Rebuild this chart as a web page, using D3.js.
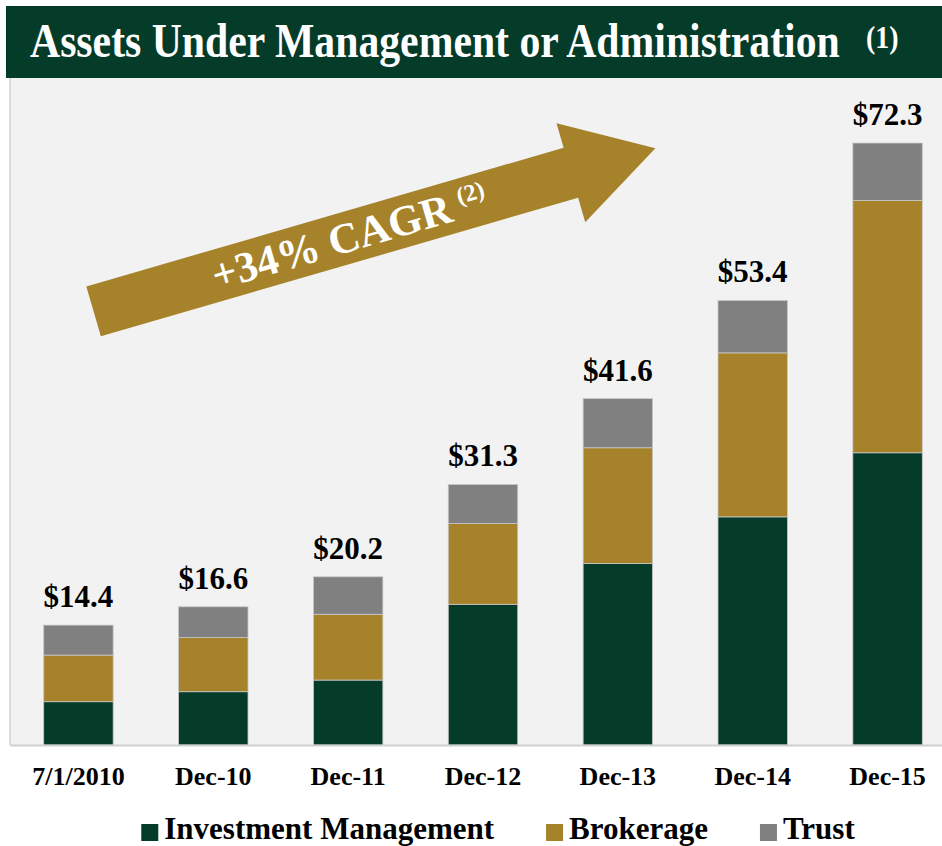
<!DOCTYPE html>
<html>
<head>
<meta charset="utf-8">
<script src="https://cdn.jsdelivr.net/npm/d3@7"></script>
<style>
  body { margin: 0; background: #fff; }
  svg { display: block; font-family: "Liberation Serif", "Times New Roman", serif; }
</style>
</head>
<body>
<div id="chart"></div>
<script>
// Assets under management or administration, $bn, stacked by business line
const categories = ["7/1/2010", "Dec-10", "Dec-11", "Dec-12", "Dec-13", "Dec-14", "Dec-15"];
const investmentMgmt = [5.2, 6.4, 7.8, 16.9, 21.8, 27.4, 35.1];
const brokerage = [5.6, 6.5, 7.9, 9.7, 13.9, 19.7, 30.3];
const trust = [3.6, 3.7, 4.5, 4.7, 5.9, 6.3, 6.9];
const totalLabels = ["$14.4", "$16.6", "$20.2", "$31.3", "$41.6", "$53.4", "$72.3"];
const seriesNames = ["Investment Management", "Brokerage", "Trust"];
const seriesKeys = ["im", "brok", "trust"];
const cagrText = "+34% CAGR";

const W = 942, H = 846;
const GREEN = "#053b29", GOLD = "#a6832a", GREY = "#808080";
const colors = { im: GREEN, brok: GOLD, trust: GREY };

const rows = categories.map((c, i) => ({
  cat: c, im: investmentMgmt[i], brok: brokerage[i], trust: trust[i]
}));

const svg = d3.select("#chart").append("svg")
  .attr("width", W).attr("height", H);

const plot = { left: 10, top: 78, right: W, bottom: 745 };

// plot background
svg.append("rect")
  .attr("x", plot.left).attr("y", plot.top)
  .attr("width", plot.right - plot.left).attr("height", plot.bottom - plot.top)
  .attr("fill", "#f2f2f2");
svg.append("line")
  .attr("x1", plot.left).attr("x2", plot.left)
  .attr("y1", plot.top).attr("y2", plot.bottom)
  .attr("stroke", "#d0d0d0").attr("stroke-width", 1.5);

// title bar (title face is narrow in the original, so squeeze it horizontally)
svg.append("rect")
  .attr("x", 6).attr("y", 6).attr("width", W - 6).attr("height", 72)
  .attr("fill", GREEN);
const title = svg.append("text")
  .attr("fill", "#fff").attr("font-weight", "bold").attr("font-size", 49)
  .text("Assets Under Management or Administration");
const tw = title.node().getComputedTextLength();
title.attr("transform", `translate(30,57) scale(${810 / tw},1)`);
svg.append("text")
  .attr("transform", "translate(866,48) scale(0.9,1)")
  .attr("fill", "#fff").attr("font-weight", "bold").attr("font-size", 31)
  .text("(1)");

const x = d3.scaleBand()
  .domain(categories)
  .range([11, 955])
  .paddingInner(0.485)
  .paddingOuter(0.2425);

const y = d3.scaleLinear()
  .domain([0, 80])
  .range([plot.bottom, plot.bottom - 80 * 8.326]);

const stacked = d3.stack().keys(seriesKeys)(rows);

svg.append("g")
  .selectAll("g")
  .data(stacked)
  .join("g")
  .attr("fill", d => colors[d.key])
  .selectAll("rect")
  .data(d => d)
  .join("rect")
  .attr("x", d => x(d.data.cat))
  .attr("width", x.bandwidth())
  .attr("y", d => y(d[1]))
  .attr("height", d => y(d[0]) - y(d[1]))
  .attr("stroke", "#c8c8c8")
  .attr("stroke-width", 0.8);

// baseline
svg.append("line")
  .attr("x1", plot.left).attr("x2", plot.right)
  .attr("y1", plot.bottom + 0.5).attr("y2", plot.bottom + 0.5)
  .attr("stroke", "#d0d0d0").attr("stroke-width", 2);

// totals above bars
svg.append("g")
  .selectAll("text")
  .data(rows)
  .join("text")
  .attr("x", d => x(d.cat) + x.bandwidth() / 2)
  .attr("y", d => y(d.im + d.brok + d.trust) - 18)
  .attr("text-anchor", "middle")
  .attr("font-weight", "bold").attr("font-size", 31)
  .attr("fill", "#000")
  .text((d, i) => totalLabels[i]);

// category labels
const xAxis = svg.append("g")
  .attr("transform", `translate(0,${plot.bottom})`)
  .call(d3.axisBottom(x).tickSize(0).tickPadding(0));
xAxis.select(".domain").remove();
xAxis.selectAll("text")
  .attr("y", 40).attr("dy", 0)
  .attr("font-family", "Liberation Serif, serif")
  .attr("font-weight", "bold").attr("font-size", 26)
  .attr("fill", "#000");

// CAGR arrow (drawn along its own axis, then rotated)
const arrow = { cx: 93.6, cy: 311.4, angle: -16.2, len: 585, shaft: 52, headLen: 88, headW: 103 };
const ag = svg.append("g")
  .attr("transform", `translate(${arrow.cx},${arrow.cy}) rotate(${arrow.angle})`);
const hb = arrow.len - arrow.headLen;
ag.append("polygon")
  .attr("points", [
    [0, -arrow.shaft / 2], [hb, -arrow.shaft / 2], [hb, -arrow.headW / 2],
    [arrow.len, 0], [hb, arrow.headW / 2], [hb, arrow.shaft / 2], [0, arrow.shaft / 2]
  ].map(p => p.join(",")).join(" "))
  .attr("fill", GOLD);
const cagr = ag.append("text")
  .attr("x", 124).attr("y", 14)
  .attr("fill", "#fff").attr("font-weight", "bold").attr("font-size", 43);
cagr.append("tspan").text(cagrText);
cagr.append("tspan").attr("dx", 9).attr("dy", -15).attr("font-size", 24).text("(2)");

// legend
const legend = svg.append("g");
const items = legend.selectAll("g")
  .data(seriesKeys)
  .join("g");
items.append("rect")
  .attr("y", 824).attr("width", 17).attr("height", 17)
  .attr("fill", d => colors[d]);
items.append("text")
  .attr("x", 23).attr("y", 839)
  .attr("font-weight", "bold").attr("font-size", 31)
  .attr("fill", "#000")
  .text((d, i) => seriesNames[i]);
let lx = 0;
const widths = [];
items.each(function () {
  widths.push(23 + d3.select(this).select("text").node().getComputedTextLength());
});
const gap = 52;
const total = d3.sum(widths) + gap * (widths.length - 1);
lx = 498 - total / 2;
items.attr("transform", (d, i) => {
  const t = `translate(${lx},0)`;
  lx += widths[i] + gap;
  return t;
});
</script>
</body>
</html>
